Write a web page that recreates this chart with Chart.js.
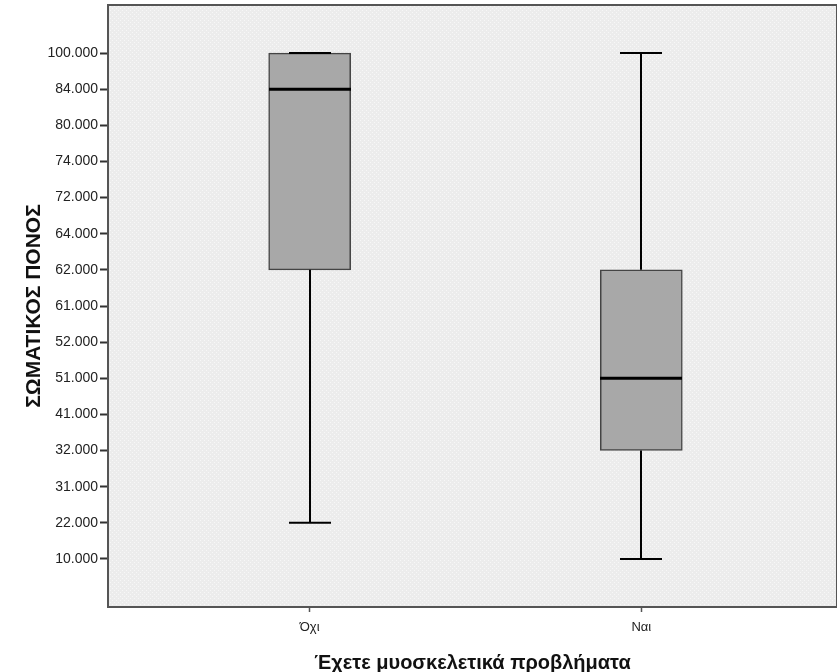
<!DOCTYPE html>
<html>
<head>
<meta charset="utf-8">
<script src="https://cdn.jsdelivr.net/npm/chart.js@4/dist/chart.umd.min.js"></script>
<style>
  html, body { margin: 0; padding: 0; background: #fff; }
  #wrap { width: 837px; height: 672px; }
</style>
</head>
<body>
<div id="wrap"><canvas id="box"></canvas></div>
<script>
/* SPSS boxplot — ΣΩΜΑΤΙΚΟΣ ΠΟΝΟΣ ανά ομάδα (άξονας y είναι κατηγορικός) */

const groups = ['Όχι', 'Ναι'];
const yLevels = ['10.000', '22.000', '31.000', '32.000', '41.000', '51.000', '52.000',
    '61.000', '62.000', '64.000', '72.000', '74.000', '80.000', '84.000', '100.000'];

const whiskerLow = ['22.000', '10.000'];
const quartile1 = ['62.000', '32.000'];
const medians = ['84.000', '51.000'];
const quartile3 = ['100.000', '62.000'];
const whiskerHigh = ['100.000', '100.000'];

const FONT = '"Liberation Sans", Arial, sans-serif';
const lvl = (v) => yLevels.indexOf(v);

// tło περιοχής γραφήματος με ελαφριές κουκκίδες
function makeDotPattern() {
    const c = document.createElement('canvas');
    c.width = 4; c.height = 4;
    const g = c.getContext('2d');
    g.fillStyle = '#ececec';
    g.fillRect(0, 0, 4, 4);
    g.fillStyle = '#f7f7f7';
    g.fillRect(0, 0, 1, 1);
    g.fillRect(2, 2, 1, 1);
    return g.createPattern(c, 'repeat');
}

const plotBackground = {
    id: 'plotBackground',
    beforeDraw(chart) {
        const { ctx, chartArea: a } = chart;
        ctx.save();
        ctx.fillStyle = makeDotPattern();
        ctx.fillRect(a.left, a.top, a.right - a.left, a.bottom - a.top);
        ctx.restore();
    },
    afterDraw(chart) {
        const { ctx, chartArea: a } = chart;
        ctx.save();
        ctx.strokeStyle = '#555';
        ctx.lineWidth = 2;
        ctx.strokeRect(a.left, a.top, a.right - a.left, a.bottom - a.top);
        ctx.restore();
    }
};

const whiskers = {
    id: 'whiskers',
    afterDatasetsDraw(chart) {
        const { ctx, scales: { x, y } } = chart;
        const capHalf = 21;
        const boxHalf = 41;
        ctx.save();
        ctx.strokeStyle = '#000';
        groups.forEach((g, i) => {
            const cx = Math.round(x.getPixelForValue(i));
            const pLow = y.getPixelForValue(lvl(whiskerLow[i]));
            const pQ1 = y.getPixelForValue(lvl(quartile1[i]));
            const pQ3 = y.getPixelForValue(lvl(quartile3[i]));
            const pHigh = y.getPixelForValue(lvl(whiskerHigh[i]));
            const pMed = y.getPixelForValue(lvl(medians[i]));
            ctx.lineWidth = 2;
            ctx.beginPath();
            if (pLow !== pQ1) {
                ctx.moveTo(cx, pQ1); ctx.lineTo(cx, pLow);
            }
            if (pHigh !== pQ3) {
                ctx.moveTo(cx, pQ3); ctx.lineTo(cx, pHigh);
            }
            ctx.moveTo(cx - capHalf, pLow); ctx.lineTo(cx + capHalf, pLow);
            ctx.moveTo(cx - capHalf, pHigh); ctx.lineTo(cx + capHalf, pHigh);
            ctx.stroke();
            ctx.lineWidth = 3;
            ctx.beginPath();
            ctx.moveTo(cx - boxHalf, pMed); ctx.lineTo(cx + boxHalf, pMed);
            ctx.stroke();
        });
        ctx.restore();
    }
};

new Chart(document.getElementById('box'), {
    type: 'bar',
    data: {
        datasets: [{
            data: groups.map((g, i) => ({ x: i, y: [lvl(quartile1[i]), lvl(quartile3[i])] })),
            backgroundColor: '#a8a8a8',
            borderColor: '#444',
            borderWidth: 1.5,
            borderSkipped: false,
            barThickness: 82
        }]
    },
    options: {
        responsive: true,
        maintainAspectRatio: false,
        animation: false,
        layout: { padding: { top: 5, right: 0, left: 0, bottom: 0 } },
        plugins: { legend: { display: false }, tooltip: { enabled: false } },
        scales: {
            x: {
                type: 'linear',
                offset: false,
                min: -0.608,
                max: 1.59,
                afterBuildTicks: (s) => { s.ticks = groups.map((g, i) => ({ value: i })); },
                afterFit: (s) => { s.height = 65; s.paddingLeft = 0; s.paddingRight = 0; },
                ticks: {
                    callback: (v) => groups[v],
                    font: { family: FONT, size: 13 },
                    color: '#222',
                    padding: 8
                },
                grid: { offset: false, drawOnChartArea: false, drawTicks: true, tickLength: 5, color: '#555', tickWidth: 1.5 },
                border: { display: false },
                title: {
                    display: true,
                    text: 'Έχετε μυοσκελετικά προβλήματα',
                    font: { family: FONT, size: 20, weight: 'bold' },
                    color: '#111',
                    padding: { top: -3, bottom: -3 }
                }
            },
            y: {
                type: 'linear',
                min: -1.33,
                max: 15.33,
                afterBuildTicks: (s) => { s.ticks = yLevels.map((l, i) => ({ value: i })); },
                afterFit: (s) => { s.width = 108; s.paddingTop = 0; s.paddingBottom = 0; },
                ticks: {
                    callback: (v) => yLevels[v],
                    font: { family: FONT, size: 14 },
                    color: '#222',
                    padding: 2
                },
                grid: { drawOnChartArea: false, drawTicks: true, tickLength: 8, color: '#333', tickWidth: 2 },
                border: { display: false },
                title: {
                    display: true,
                    text: 'ΣΩΜΑΤΙΚΟΣ ΠΟΝΟΣ',
                    font: { family: FONT, size: 21, weight: 'bold' },
                    color: '#111',
                    padding: { top: 22, bottom: 0 }
                }
            }
        }
    },
    plugins: [plotBackground, whiskers]
});
</script>
</body>
</html>
